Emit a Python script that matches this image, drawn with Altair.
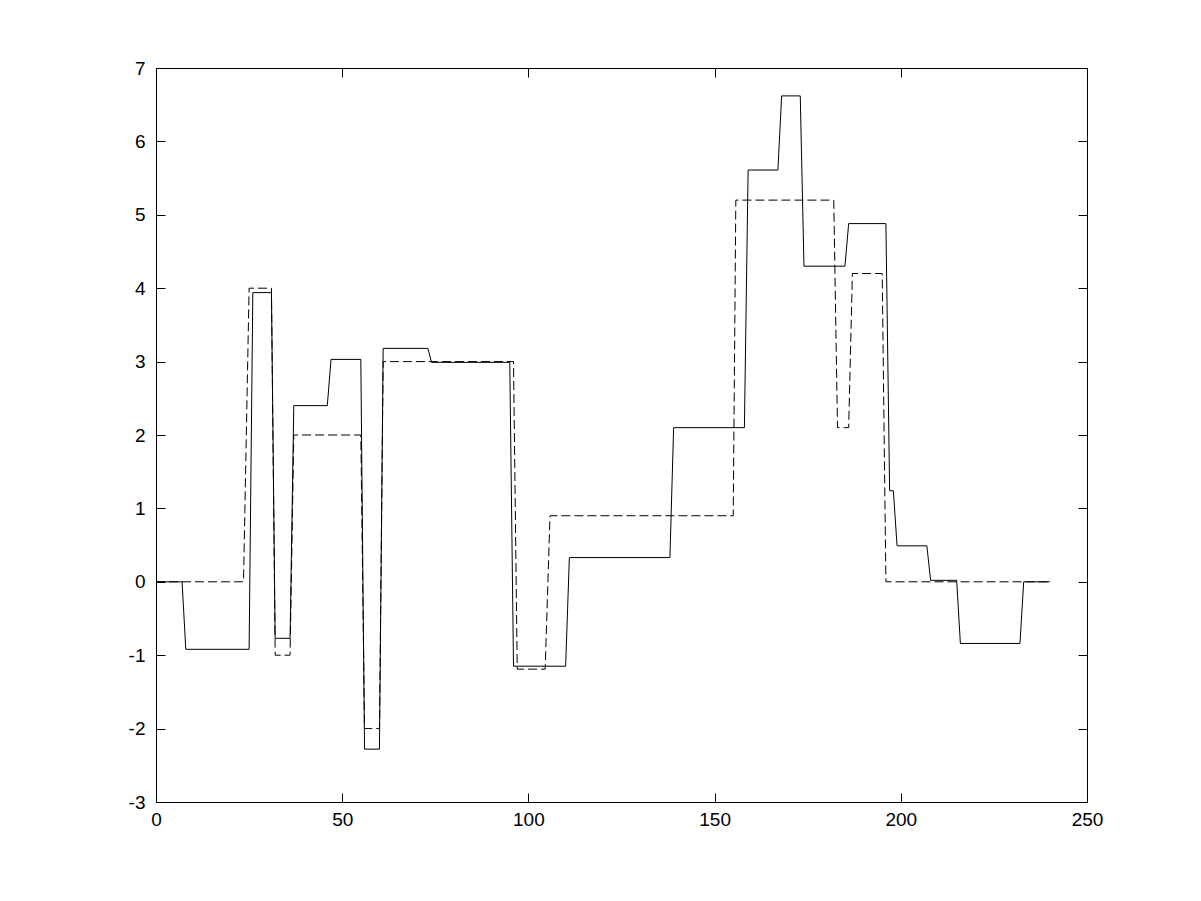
import altair as alt
import pandas as pd

# Solid series (vertices of the sampled signal)
solid_x = [0, 7, 8, 25, 26, 31, 32, 36, 37, 46, 47, 55, 56, 60, 61, 73, 74, 95, 96,
           110, 111, 138, 139, 158, 159, 167, 168, 173, 174, 185, 186, 196, 197, 198,
           199, 207, 208, 215, 216, 232, 233, 240]
solid_y = [0, 0, -0.92, -0.92, 3.94, 3.94, -0.77, -0.77, 2.40, 2.40, 3.03, 3.03, -2.28,
           -2.28, 3.18, 3.18, 2.99, 2.99, -1.15, -1.15, 0.33, 0.33, 2.10, 2.10, 5.61,
           5.61, 6.62, 6.62, 4.30, 4.30, 4.88, 4.88, 1.24, 1.24, 0.49, 0.49, 0.02, 0.02,
           -0.84, -0.84, 0, 0]

# Dashed series
dashed_x = [0, 23.5, 25, 31, 32, 36, 37, 55, 56, 60, 61, 96, 97, 104.5, 105.8, 155,
            155.7, 182, 183, 186, 187, 195, 196, 240]
dashed_y = [0, 0, 4.0, 4.0, -1.0, -1.0, 2.0, 2.0, -2.0, -2.0, 3.0, 3.0, -1.19, -1.19,
            0.9, 0.9, 5.2, 5.2, 2.1, 2.1, 4.2, 4.2, 0, 0]

x_ticks = [0, 50, 100, 150, 200, 250]
y_ticks = [-3, -2, -1, 0, 1, 2, 3, 4, 5, 6, 7]

solid_df = pd.DataFrame({"x": solid_x, "y": solid_y, "i": range(len(solid_x))})
dashed_df = pd.DataFrame({"x": dashed_x, "y": dashed_y, "i": range(len(dashed_x))})

xs = alt.Scale(domain=[0, 250], nice=False, zero=False)
ys = alt.Scale(domain=[-3, 7], nice=False, zero=False)

TICK = 9
label_expr = "datum.value < 0 ? '-' + abs(datum.value) : '' + datum.value"
common_axis = dict(domain=False, grid=False, tickColor="black", tickWidth=1,
                   tickSize=TICK, offset=-TICK, labelFont="Liberation Sans",
                   labelFontSize=19, labelColor="black", labelFlush=False,
                   labelOverlap=False, labelExpr=label_expr)

solid = alt.Chart(solid_df).mark_line(color="black", strokeWidth=1).encode(
    x=alt.X("x:Q", scale=xs, title=None,
            axis=alt.Axis(orient="bottom", values=x_ticks, labelPadding=8,
                          **common_axis)),
    y=alt.Y("y:Q", scale=ys, title=None,
            axis=alt.Axis(orient="left", values=y_ticks, labelPadding=11,
                          **common_axis)),
    order="i:Q",
)

dashed = alt.Chart(dashed_df).mark_line(color="black", strokeWidth=1,
                                        strokeDash=[9, 4]).encode(
    x=alt.X("x:Q", scale=xs, title=None,
            axis=alt.Axis(orient="top", values=x_ticks, labels=False,
                          **common_axis)),
    y=alt.Y("y:Q", scale=ys, title=None,
            axis=alt.Axis(orient="right", values=y_ticks, labels=False,
                          **common_axis)),
    order="i:Q",
)

chart = alt.layer(solid, dashed).resolve_axis(x="independent", y="independent").properties(
    width=931, height=734,
    autosize=alt.AutoSizeParams(type="none"),
    padding={"left": 148, "top": 60, "right": 106, "bottom": 91},
    background="white",
).configure_view(stroke="black", strokeWidth=1)

chart.save("out.html", embed_options={"renderer": "svg", "actions": False})
